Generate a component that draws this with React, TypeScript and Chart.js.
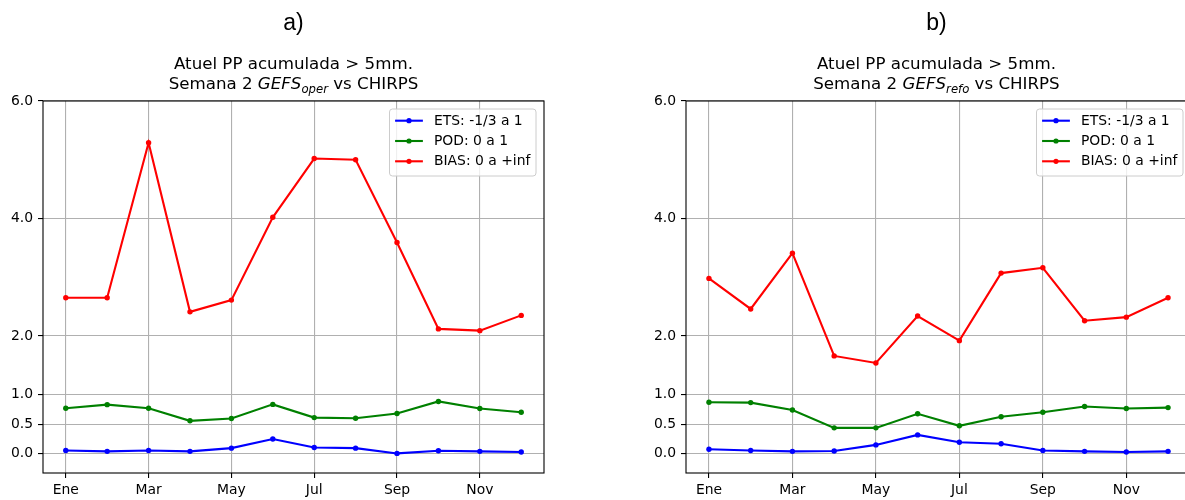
import React, { useEffect, useRef } from "react";
import { Chart, registerables } from "chart.js";

Chart.register(...registerables);

// ---------- DATA ----------
const MONTHS = ["Ene", "Feb", "Mar", "Abr", "May", "Jun", "Jul", "Ago", "Sep", "Oct", "Nov", "Dic"];
const X_TICK_MONTHS = [0, 2, 4, 6, 8, 10]; // Ene, Mar, May, Jul, Sep, Nov
const Y_TICKS = [0, 0.5, 1, 2, 4, 6];
const Y_MIN = -1 / 3;
const Y_MAX = 6;

const SERIES_LABELS = ["ETS: -1/3 a 1", "POD: 0 a 1", "BIAS: 0 a +inf"];
const SERIES_COLORS = ["#0000ff", "#008000", "#ff0000"];

// Panel a) GEFS oper
const OPER_ETS = [0.05, 0.035, 0.05, 0.035, 0.09, 0.245, 0.1, 0.09, 0.0, 0.045, 0.035, 0.025];
const OPER_POD = [0.77, 0.83, 0.77, 0.555, 0.595, 0.835, 0.61, 0.6, 0.68, 0.885, 0.765, 0.7];
const OPER_BIAS = [2.65, 2.65, 5.29, 2.41, 2.61, 4.02, 5.02, 5.0, 3.59, 2.12, 2.09, 2.35];

// Panel b) GEFS refo
const REFO_ETS = [0.07, 0.05, 0.035, 0.04, 0.145, 0.315, 0.19, 0.165, 0.05, 0.035, 0.025, 0.035];
const REFO_POD = [0.87, 0.865, 0.74, 0.435, 0.435, 0.675, 0.47, 0.625, 0.7, 0.8, 0.765, 0.78];
const REFO_BIAS = [2.98, 2.46, 3.41, 1.66, 1.54, 2.34, 1.92, 3.07, 3.16, 2.26, 2.32, 2.65];

// ---------- STYLE ----------
const FONT = '"DejaVu Sans", "Noto Sans", sans-serif';
const TICK_FS = 13.9;

const frameLegendPlugin = {
  id: "frameLegend",
  afterDatasetsDraw(chart: any) {
    const { ctx, chartArea: a } = chart;
    ctx.save();
    // spines
    ctx.strokeStyle = "#000";
    ctx.lineWidth = 1.1;
    ctx.strokeRect(a.left, a.top, a.right - a.left, a.bottom - a.top);

    // legend
    const fs = 13.9;
    ctx.font = `${fs}px ${FONT}`;
    const ds = chart.data.datasets;
    const labels = ds.map((d: any) => d.label as string);
    const tw = Math.max(...labels.map((l: string) => ctx.measureText(l).width));
    const pad = 5.6;
    const hl = 27.8;
    const htp = 11.1;
    const w = pad + hl + htp + tw + pad;
    const rowH = 20.3;
    const h = 67;
    const x = a.right - 8 - w;
    const y = a.top + 8;
    ctx.beginPath();
    (ctx as any).roundRect(x, y, w, h, 3);
    ctx.fillStyle = "rgba(255,255,255,0.8)";
    ctx.fill();
    ctx.strokeStyle = "#cccccc";
    ctx.lineWidth = 1;
    ctx.stroke();
    labels.forEach((l: string, i: number) => {
      const cy = y + 11.7 + i * rowH;
      const col = ds[i].borderColor;
      ctx.strokeStyle = col;
      ctx.lineWidth = 2.1;
      ctx.beginPath();
      ctx.moveTo(x + pad, cy);
      ctx.lineTo(x + pad + hl, cy);
      ctx.stroke();
      ctx.fillStyle = col;
      ctx.beginPath();
      ctx.arc(x + pad + hl / 2, cy, 2.6, 0, Math.PI * 2);
      ctx.fill();
      ctx.fillStyle = "#000";
      ctx.textBaseline = "middle";
      ctx.textAlign = "left";
      ctx.fillText(l, x + pad + hl + htp, cy + 0.5);
    });
    ctx.restore();
  },
};

type PanelProps = {
  left: number;
  padRight: number;
  letter: string;
  sub: string;
  ets: number[];
  pod: number[];
  bias: number[];
};

function Panel({ left, padRight, letter, sub, ets, pod, bias }: PanelProps) {
  const ref = useRef<HTMLCanvasElement | null>(null);

  useEffect(() => {
    if (!ref.current) return;
    const series = [ets, pod, bias];
    const chart = new Chart(ref.current, {
      type: "line",
      data: {
        datasets: series.map((vals, si) => ({
          label: SERIES_LABELS[si],
          data: vals.map((v, i) => ({ x: i, y: v })),
          borderColor: SERIES_COLORS[si],
          backgroundColor: SERIES_COLORS[si],
          pointBackgroundColor: SERIES_COLORS[si],
          pointBorderWidth: 0,
          pointRadius: 2.7,
          borderWidth: 2.1,
          tension: 0,
          fill: false,
        })),
      },
      options: {
        responsive: false,
        animation: false,
        events: [],
        layout: { padding: { left: 0, right: padRight, top: 101, bottom: 0 } },
        plugins: {
          legend: { display: false },
          title: { display: false },
          tooltip: { enabled: false },
        },
        scales: {
          x: {
            type: "linear",
            min: -0.55,
            max: 11.55,
            afterBuildTicks: (scale: any) => {
              scale.ticks = X_TICK_MONTHS.map((v) => ({ value: v }));
            },
            afterFit: (scale: any) => {
              scale.height = 27;
            },
            ticks: {
              callback: (v: any) => MONTHS[Number(v)],
              font: { family: FONT, size: TICK_FS },
              color: "#000",
              padding: 4,
              maxRotation: 0,
              autoSkip: false,
            },
            grid: {
              color: "#b0b0b0",
              lineWidth: 1.1,
              tickColor: "#000",
              tickLength: 5,
              tickWidth: 1.1,
            },
            border: { display: false },
          },
          y: {
            type: "linear",
            min: Y_MIN,
            max: Y_MAX,
            afterBuildTicks: (scale: any) => {
              scale.ticks = Y_TICKS.map((v) => ({ value: v }));
            },
            afterFit: (scale: any) => {
              scale.width = 43;
            },
            ticks: {
              callback: (v: any) => Number(v).toFixed(1),
              font: { family: FONT, size: TICK_FS },
              color: "#000",
              padding: 5,
              autoSkip: false,
            },
            grid: {
              color: "#b0b0b0",
              lineWidth: 1.1,
              tickColor: "#000",
              tickLength: 5,
              tickWidth: 1.1,
            },
            border: { display: false },
          },
        },
      },
      plugins: [frameLegendPlugin],
    } as any);
    return () => chart.destroy();
  }, [ets, pod, bias, padRight]);

  return (
    <div style={{ position: "absolute", left, top: 0, width: 600, height: 500 }}>
      <canvas ref={ref} width={600} height={500} style={{ position: "absolute", left: 0, top: 0 }} />
      <div
        style={{
          position: "absolute",
          left: 43,
          width: 501,
          top: 7,
          textAlign: "center",
          fontFamily: '"Liberation Sans", Arial, sans-serif',
          fontSize: 23,
          lineHeight: "30px",
          color: "#000",
        }}
      >
        {letter}
      </div>
      <div
        style={{
          position: "absolute",
          left: 43,
          width: 501,
          top: 54,
          textAlign: "center",
          fontFamily: FONT,
          fontSize: 16.67,
          lineHeight: "20px",
          color: "#000",
          whiteSpace: "nowrap",
        }}
      >
        <div>Atuel PP acumulada &gt; 5mm.</div>
        <div>
          Semana 2{" "}
          <i>
            GEFS
            <span style={{ fontSize: "0.7em", position: "relative", top: "0.3em" }}>{sub}</span>
          </i>{" "}
          vs CHIRPS
        </div>
      </div>
    </div>
  );
}

export default function App() {
  return (
    <div
      style={{
        position: "absolute",
        left: 0,
        top: 0,
        width: 1185,
        height: 500,
        overflow: "hidden",
        background: "#fff",
      }}
    >
      <Panel left={0} padRight={56} letter="a)" sub="oper" ets={OPER_ETS} pod={OPER_POD} bias={OPER_BIAS} />
      <Panel left={643} padRight={52} letter="b)" sub="refo" ets={REFO_ETS} pod={REFO_POD} bias={REFO_BIAS} />
    </div>
  );
}
